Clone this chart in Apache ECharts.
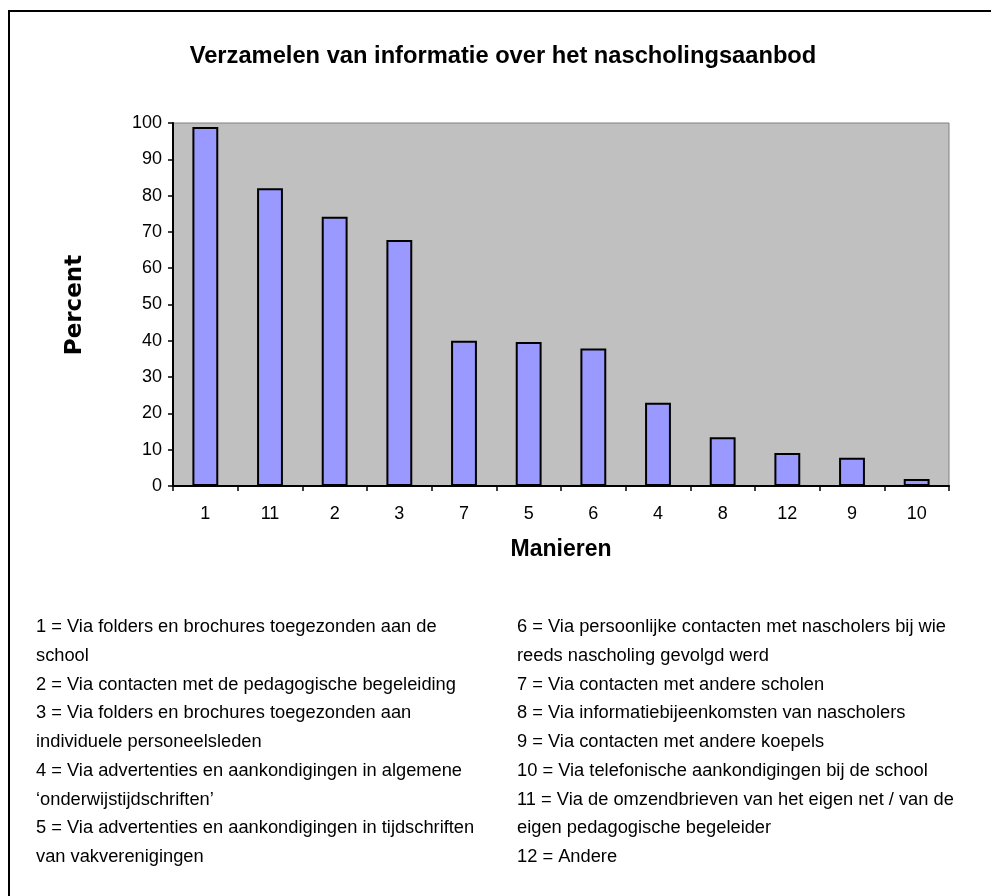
<!DOCTYPE html>
<html>
<head>
<meta charset="utf-8">
<script src="https://cdn.jsdelivr.net/npm/echarts@6/dist/echarts.min.js"></script>
<style>html,body{margin:0;padding:0;background:#fff}#c{width:991px;height:896px}</style>
</head>
<body>
<div id="c"></div>
<script>
const categories = ['1', '11', '2', '3', '7', '5', '6', '4', '8', '12', '9', '10'];
const percentValues = [98.9, 82, 74.2, 67.8, 40, 39.7, 37.9, 22.9, 13.4, 9.1, 7.8, 1.9];
const yTicks = { min: 0, max: 100, interval: 10 };
const titleText = 'Verzamelen van informatie over het nascholingsaanbod';
const yName = 'Percent';
const xName = 'Manieren';
const legendLeft = [
  '1 = Via folders en brochures toegezonden aan de',
  'school',
  '2 = Via contacten met de pedagogische begeleiding',
  '3 = Via folders en brochures toegezonden aan',
  'individuele personeelsleden',
  '4 = Via advertenties en aankondigingen in algemene',
  '\u2018onderwijstijdschriften\u2019',
  '5 = Via advertenties en aankondigingen in tijdschriften',
  'van vakverenigingen'
];
const legendRight = [
  '6 = Via persoonlijke contacten met nascholers bij wie',
  'reeds nascholing gevolgd werd',
  '7 = Via contacten met andere scholen',
  '8 = Via informatiebijeenkomsten van nascholers',
  '9 = Via contacten met andere koepels',
  '10 = Via telefonische aankondigingen bij de school',
  '11 = Via de omzendbrieven van het eigen net / van de',
  'eigen pedagogische begeleider',
  '12 = Andere'
];

const chart = echarts.init(document.getElementById('c'), null, { renderer: 'canvas' });
const font = '"Liberation Sans", Arial, sans-serif';
const lineStart = 627, lineStep = 28.75;
const graphics = [
  { type: 'rect', shape: { x: 9, y: 11, width: 1000, height: 1000 }, style: { fill: 'none', stroke: '#000', lineWidth: 2 }, silent: true, z: 0 },
  { type: 'text', x: 75, y: 305, rotation: Math.PI / 2, style: { text: yName, font: 'bold 23px "DejaVu Sans", Verdana, sans-serif', fill: '#000', textAlign: 'center', textVerticalAlign: 'middle' } },
  { type: 'text', x: 561, y: 550, style: { text: xName, font: 'bold 23px ' + font, fill: '#000', textAlign: 'center', textVerticalAlign: 'middle' } },
  { type: 'text', x: 503, y: 56, style: { text: titleText, font: 'bold 23.7px ' + font, fill: '#000', textAlign: 'center', textVerticalAlign: 'middle' } }
];
legendLeft.forEach((t, i) => graphics.push({ type: 'text', x: 36, y: lineStart + i * lineStep, style: { text: t, font: '18.3px ' + font, fill: '#000', textAlign: 'left', textVerticalAlign: 'middle' } }));
legendRight.forEach((t, i) => graphics.push({ type: 'text', x: 517, y: lineStart + i * lineStep, style: { text: t, font: '18.3px ' + font, fill: '#000', textAlign: 'left', textVerticalAlign: 'middle' } }));

chart.setOption({
  animation: false,
  backgroundColor: '#fff',
  grid: { left: 173, top: 123, right: 42, bottom: 410, show: true, backgroundColor: '#C0C0C0', borderColor: '#808080', borderWidth: 1 },
  xAxis: {
    type: 'category', data: categories, boundaryGap: true,
    axisLine: { lineStyle: { color: '#000', width: 2 } },
    axisTick: { show: true, alignWithLabel: false, length: 5, lineStyle: { color: '#000', width: 1.5 } },
    axisLabel: { color: '#000', fontFamily: font, fontSize: 18, margin: 19 },
    splitLine: { show: false }
  },
  yAxis: {
    type: 'value', min: yTicks.min, max: yTicks.max, interval: yTicks.interval,
    axisLine: { show: true, lineStyle: { color: '#000', width: 2 } },
    axisTick: { show: true, length: 5, lineStyle: { color: '#000', width: 1.5 } },
    axisLabel: { color: '#000', fontFamily: font, fontSize: 18, margin: 11 },
    splitLine: { show: false }
  },
  series: [{
    type: 'bar', data: percentValues, barWidth: '40%',
    itemStyle: { color: '#9999FF', borderColor: '#000', borderWidth: 2 }
  }],
  graphic: graphics
});
</script>
</body>
</html>
